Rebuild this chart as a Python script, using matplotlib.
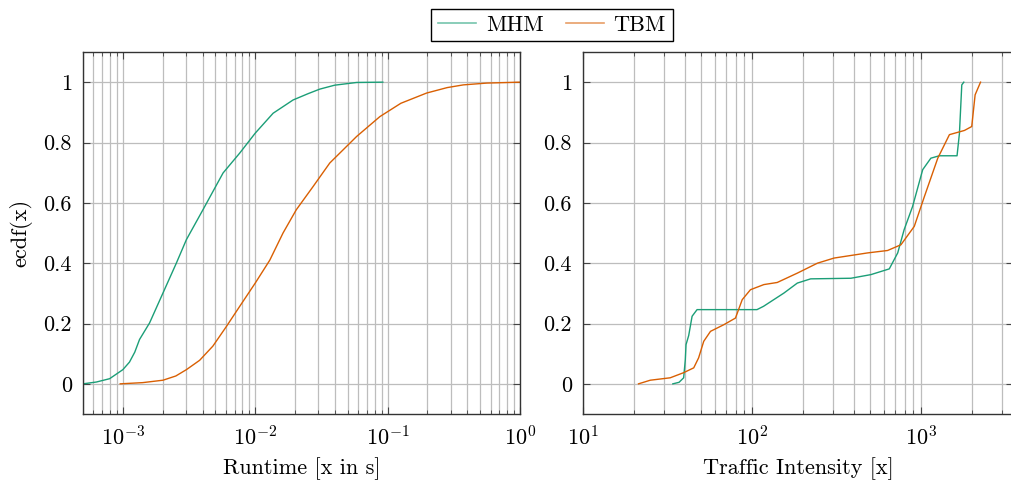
import matplotlib.pyplot as plt
import numpy as np
from matplotlib.lines import Line2D
from matplotlib.ticker import LogLocator, FixedLocator, FuncFormatter, NullFormatter

plt.rcParams['font.family'] = 'cmr10'
plt.rcParams['mathtext.fontset'] = 'cm'
plt.rcParams['axes.formatter.use_mathtext'] = True
plt.rcParams['font.size'] = 16

# runtime ecdf (left)
rt_mhm_x = [5e-4, 10**-3.2, 10**-3.1, 1e-3, 10**-2.95, 10**-2.91, 10**-2.874, 10**-2.798,
            10**-2.697, 10**-2.596, 10**-2.52, 10**-2.395, 10**-2.243, 10**-2.117, 1e-2,
            10**-1.865, 10**-1.714, 10**-1.6, 10**-1.512, 10**-1.4, 10**-1.234, 0.092]
rt_mhm_y = [0.0, 0.006, 0.017, 0.047, 0.072, 0.105, 0.147, 0.202, 0.301, 0.40, 0.478, 0.577,
            0.699, 0.765, 0.831, 0.897, 0.941, 0.962, 0.977, 0.99, 0.999, 1.0]
rt_tbm_x = [10**-3.02, 10**-2.85, 10**-2.697, 10**-2.6, 10**-2.52, 10**-2.42, 10**-2.32,
            10**-2.218, 10**-2.117, 1e-2, 10**-1.89, 10**-1.79, 10**-1.69, 10**-1.563,
            10**-1.437, 10**-1.234, 10**-1.058, 10**-0.9, 10**-0.705, 10**-0.55, 10**-0.428,
            10**-0.25, 1.0]
rt_tbm_y = [0.0, 0.004, 0.012, 0.026, 0.047, 0.078, 0.125, 0.19, 0.257, 0.334, 0.41, 0.50,
            0.577, 0.654, 0.732, 0.82, 0.886, 0.93, 0.964, 0.982, 0.991, 0.997, 1.0]

# traffic intensity ecdf (right)
ti_mhm_x = [34, 37, 39.4, 40.3, 40.7, 42.2, 44.2, 47.3, 107, 117, 154.5, 185.4, 222.3, 384.6,
            504.7, 648.6, 727.8, 794.3, 891.3, 1023, 1143, 1282, 1633, 1687, 1742, 1791]
ti_mhm_y = [0.0, 0.005, 0.02, 0.08, 0.13, 0.16, 0.224, 0.246, 0.246, 0.257, 0.301, 0.334, 0.348,
            0.35, 0.362, 0.381, 0.434, 0.511, 0.588, 0.71, 0.748, 0.756, 0.756, 0.83, 0.991, 1.0]
ti_tbm_x = [21.3, 25.0, 32.8, 39.4, 45.2, 48.3, 51.8, 56.8, 68.1, 79.8, 87.5, 97.9, 117.5, 141,
            185.4, 243.8, 306.2, 483.1, 633.9, 760.3, 912, 1047, 1256, 1472, 1807, 1995, 2089, 2249]
ti_tbm_y = [0.0, 0.012, 0.02, 0.037, 0.053, 0.086, 0.141, 0.174, 0.196, 0.218, 0.279, 0.312,
            0.329, 0.336, 0.367, 0.40, 0.417, 0.434, 0.442, 0.461, 0.522, 0.621, 0.748, 0.826,
            0.84, 0.853, 0.958, 1.0]

c_mhm = '#1b9e77'
c_tbm = '#d95f02'

fig = plt.figure(figsize=(10.12, 4.84), dpi=100)
ax1 = fig.add_axes([83 / 1012, 70 / 484, 437 / 1012, 362 / 484])
ax2 = fig.add_axes([583 / 1012, 70 / 484, 430 / 1012, 362 / 484])

ax1.plot(rt_mhm_x, rt_mhm_y, color=c_mhm, lw=1.0)
ax1.plot(rt_tbm_x, rt_tbm_y, color=c_tbm, lw=1.0)
ax2.plot(ti_mhm_x, ti_mhm_y, color=c_mhm, lw=1.0)
ax2.plot(ti_tbm_x, ti_tbm_y, color=c_tbm, lw=1.0)

ax1.set_xlim(5e-4, 1)
ax2.set_xlim(10, 3500)

yfmt = FuncFormatter(lambda v, p: '%g' % round(v, 2))
for ax in (ax1, ax2):
    ax.set_xscale('log')
    ax.set_ylim(-0.1, 1.1)
    ax.yaxis.set_major_locator(FixedLocator([0, 0.2, 0.4, 0.6, 0.8, 1.0]))
    ax.yaxis.set_major_formatter(yfmt)
    ax.xaxis.set_major_locator(LogLocator(base=10, numticks=10))
    ax.xaxis.set_minor_locator(LogLocator(base=10, subs=np.arange(2, 10), numticks=20))
    ax.xaxis.set_minor_formatter(NullFormatter())
    ax.grid(True, which='major', color='#bdbdbd', lw=0.9)
    ax.grid(True, which='minor', axis='x', color='#bdbdbd', lw=0.9)
    ax.set_axisbelow(True)
    ax.tick_params(which='both', direction='in', top=True, right=True, color='#444444')
    ax.tick_params(which='major', length=5, width=0.8, pad=8)
    ax.tick_params(which='minor', length=3, width=0.6)
    for s in ax.spines.values():
        s.set_color('#333333')
        s.set_linewidth(1.0)

ax1.set_xlabel('Runtime [x in s]', labelpad=6)
ax1.set_ylabel('ecdf(x)', labelpad=8)
ax2.set_xlabel('Traffic Intensity [x]', labelpad=6)

handles = [Line2D([], [], color=c_mhm, lw=1.2, alpha=0.6),
           Line2D([], [], color=c_tbm, lw=1.2, alpha=0.6)]
fig.legend(handles, ['MHM', 'TBM'], loc='center', bbox_to_anchor=(552 / 1012, 1 - 25 / 484),
           ncol=2, frameon=True, fancybox=False, edgecolor='black', framealpha=1,
           handlelength=1.7, handletextpad=0.45, columnspacing=1.0, borderpad=0.3)

fig.savefig('out.png', dpi=100)
